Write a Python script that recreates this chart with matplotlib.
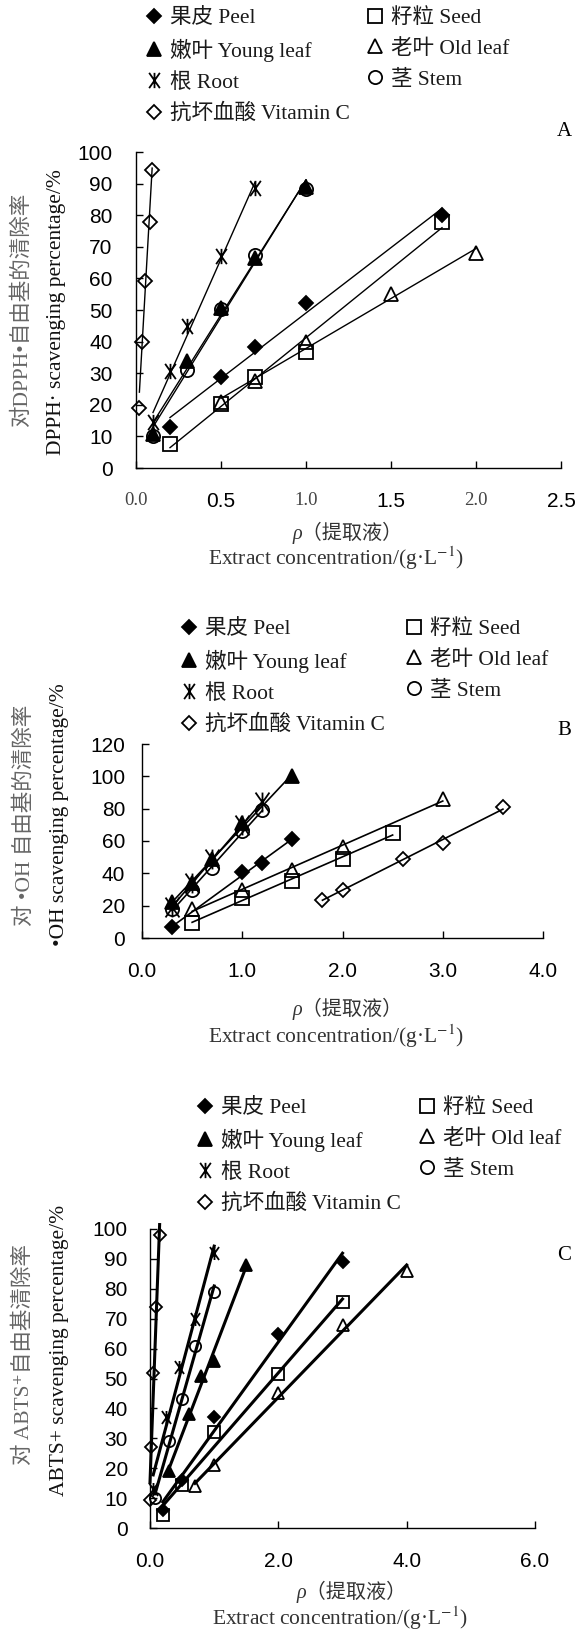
import numpy as np
import matplotlib
matplotlib.use('Agg')
import matplotlib.pyplot as plt
from matplotlib.lines import Line2D
from matplotlib.path import Path

plt.rcParams['mathtext.fontset'] = 'stix'

SERIF = ['Liberation Serif', 'Noto Sans CJK SC', 'DejaVu Sans']
SANS = ['Liberation Sans', 'Noto Sans CJK SC']

W, H = 585, 1630

# ---- data ----
names = ['果皮 Peel', '籽粒 Seed', '嫩叶 Young leaf', '老叶 Old leaf',
         '根 Root', '茎 Stem', '抗坏血酸 Vitamin C']

# A: DPPH
peel_a_x = [0.2, 0.5, 0.7, 1.0, 1.8]
peel_a_y = [13, 28.7, 38.3, 52.2, 80]
seed_a_x = [0.2, 0.5, 0.7, 1.0, 1.8]
seed_a_y = [7.6, 20.4, 28.8, 36.6, 78]
young_a_x = [0.1, 0.3, 0.5, 0.7, 1.0]
young_a_y = [10.9, 34, 50.6, 66.5, 89]
old_a_x = [0.5, 0.7, 1.0, 1.5, 2.0]
old_a_y = [21, 27.5, 39.8, 55, 68]
root_a_x = [0.1, 0.2, 0.3, 0.5, 0.7]
root_a_y = [14.5, 30.6, 44.8, 67.2, 88.6]
stem_a_x = [0.1, 0.3, 0.5, 0.7, 1.0]
stem_a_y = [10.2, 31.1, 50.3, 67.5, 88.3]
vc_a_x = [0.02, 0.035, 0.05, 0.08, 0.095]
vc_a_y = [19, 40, 59.3, 77.7, 94.2]

# B: .OH
peel_b_x = [0.3, 1.0, 1.2, 1.5]
peel_b_y = [6.5, 41, 46.5, 61]
seed_b_x = [0.5, 1.0, 1.5, 2.0, 2.5]
seed_b_y = [9.5, 25, 35, 49, 65]
young_b_x = [0.3, 0.5, 0.7, 1.0, 1.5]
young_b_y = [22, 34, 49, 71, 100]
old_b_x = [0.5, 1.0, 1.5, 2.0, 3.0]
old_b_y = [18, 30, 42, 56.5, 86]
root_b_x = [0.3, 0.5, 0.7, 1.0, 1.2]
root_b_y = [19, 34, 49, 70, 84]
stem_b_x = [0.3, 0.5, 0.7, 1.0, 1.2]
stem_b_y = [18, 30, 43, 66, 79]
vc_b_x = [1.8, 2.0, 2.6, 3.0, 3.6]
vc_b_y = [23.5, 30, 49, 58.5, 81]

# C: ABTS+
peel_c_x = [0.2, 0.5, 1.0, 2.0, 3.0]
peel_c_y = [6, 16, 37, 65, 89]
seed_c_x = [0.2, 0.5, 1.0, 2.0, 3.0]
seed_c_y = [4.5, 14.5, 32, 51.5, 75.5]
young_c_x = [0.3, 0.6, 0.8, 1.0, 1.5]
young_c_y = [19, 38, 51, 56, 88]
old_c_x = [0.7, 1.0, 2.0, 3.0, 4.0]
old_c_y = [14, 21, 45, 68, 86]
root_c_x = [0.05, 0.25, 0.45, 0.7, 1.0]
root_c_y = [13, 37, 54, 70, 92]
stem_c_x = [0.08, 0.3, 0.5, 0.7, 1.0]
stem_c_y = [10, 29, 43, 61, 79]
vc_c_x = [0.0, 0.02, 0.05, 0.1, 0.15]
vc_c_y = [9.5, 27, 52, 74, 98]

# Excel-like star: X with a vertical bar
star = Path([(-0.7, -1), (0.7, 1), (-0.7, 1), (0.7, -1), (0, -1), (0, 1)],
            [Path.MOVETO, Path.LINETO, Path.MOVETO, Path.LINETO, Path.MOVETO, Path.LINETO])

# marker styles, same order as names
styles = [
    dict(marker='D', mfc='black', ms=7.5),
    dict(marker='s', mfc='none', ms=9.5),
    dict(marker='^', mfc='black', ms=9.5),
    dict(marker='^', mfc='none', ms=9.5),
    dict(marker=star, mfc='none', ms=11),
    dict(marker='o', mfc='none', ms=9.5),
    dict(marker='D', mfc='none', ms=7.5),
]

fig = plt.figure(figsize=(W / 100, H / 100), dpi=100)


def px_axes(l, r, t, b):
    return fig.add_axes([l / W, 1 - b / H, (r - l) / W, (b - t) / H])


def draw_series(ax, xs, ys, lw, msscale=1.0, rootscale=1.0):
    for i, (x, y) in enumerate(zip(xs, ys)):
        st = dict(styles[i])
        st['ms'] = st['ms'] * msscale * (rootscale if i == 4 else 1.0)
        k, b = np.polyfit(x, y, 1)
        xx = np.array([min(x), max(x)])
        ax.plot(xx, k * xx + b, color='black', lw=lw, zorder=2, clip_on=False)
        ax.plot(x, y, ls='none', mec='black', mew=1.3, zorder=3,
                clip_on=False, **st)


def style_axes(ax, xpad, ypad):
    for s in ['top', 'right']:
        ax.spines[s].set_visible(False)
    for s in ['left', 'bottom']:
        ax.spines[s].set_linewidth(1.0)
    ax.tick_params(direction='in', length=5, width=1.0, labelsize=15)
    ax.tick_params(axis='x', pad=xpad)
    ax.tick_params(axis='y', pad=ypad)
    for lab in ax.get_xticklabels() + ax.get_yticklabels():
        lab.set_fontfamily(SANS)


def legends(mx1, mx2, top, fs=15.5):
    hs = []
    for st in styles:
        hs.append(Line2D([], [], ls='none', mec='black', mew=1.3, **st))
    kw = dict(frameon=False, handlelength=1.0, handletextpad=0.25,
              borderpad=0, borderaxespad=0, labelspacing=0.5, loc='upper left',
              prop={'family': SERIF, 'size': fs})
    hl = 0.5 * fs * 1.389
    l1 = fig.legend([hs[0], hs[2], hs[4], hs[6]], [names[0], names[2], names[4], names[6]],
                    bbox_to_anchor=((mx1 - hl) / W, 1 - top / H), **kw)
    l2 = fig.legend([hs[1], hs[3], hs[5]], [names[1], names[3], names[5]],
                    bbox_to_anchor=((mx2 - hl) / W, 1 - top / H), **kw)
    for lg in (l1, l2):
        for t in lg.get_texts():
            t.set_color('#1a1a1a')


def ftext(x, y, s, **kw):
    fig.text(x / W, 1 - y / H, s, ha='center', va='center', **kw)


# ---------------- Panel A ----------------
axA = px_axes(136, 561, 152, 468)
draw_series(axA, [peel_a_x, seed_a_x, young_a_x, old_a_x, root_a_x, stem_a_x, vc_a_x],
            [peel_a_y, seed_a_y, young_a_y, old_a_y, root_a_y, stem_a_y, vc_a_y], lw=1.0)
axA.set_xlim(0, 2.5)
axA.set_ylim(0, 100)
axA.set_xticks(np.arange(0, 2.51, 0.5))
axA.set_yticks(np.arange(0, 101, 10))
axA.set_xticklabels(['0.0', '0.5', '1.0', '1.5', '2.0', '2.5'])
style_axes(axA, 17, 17)
for i, lab in enumerate(axA.get_xticklabels()):
    if i % 2 == 0:
        lab.set_fontfamily(SERIF)
        lab.set_color('#444444')
        lab.set_fontsize(13.5)

legends(154, 375, 8)
ftext(564, 132, 'A', fontsize=15, family=SERIF)
ftext(22, 310, '对DPPH•自由基的清除率', rotation=90, fontsize=15.5, family=SERIF, color='#666666')
ftext(57, 312, 'DPPH· scavenging percentage/%', rotation=90, fontsize=15.5, family=SERIF, color='#111111')
ftext(348, 533, 'ρ（提取液）', fontsize=14.5, family=SERIF, style='italic', color='#333333')
ftext(336, 558, 'Extract concentration/(g·L$^{-1}$)', fontsize=15.5, family=SERIF, color='#333333')

# ---------------- Panel B ----------------
axB = px_axes(142, 543, 744, 938)
draw_series(axB, [peel_b_x, seed_b_x, young_b_x, old_b_x, root_b_x, stem_b_x, vc_b_x],
            [peel_b_y, seed_b_y, young_b_y, old_b_y, root_b_y, stem_b_y, vc_b_y], lw=1.2,
            rootscale=1.3)
axB.set_xlim(0, 4.0)
axB.set_ylim(0, 120)
axB.set_xticks(np.arange(0, 4.01, 1.0))
axB.set_yticks(np.arange(0, 121, 20))
axB.set_xticklabels(['0.0', '1.0', '2.0', '3.0', '4.0'])
style_axes(axB, 17, 12)

legends(189, 414, 619)
ftext(564, 730, 'B', fontsize=15, family=SERIF)
ftext(24, 815, '对 •OH 自由基的清除率', rotation=90, fontsize=15.5, family=SERIF, color='#666666')
ftext(60, 815, '•OH scavenging percentage/%', rotation=90, fontsize=15.5, family=SERIF, color='#111111')
ftext(348, 1009, 'ρ（提取液）', fontsize=14.5, family=SERIF, style='italic', color='#333333')
ftext(336, 1036, 'Extract concentration/(g·L$^{-1}$)', fontsize=15.5, family=SERIF, color='#333333')

# ---------------- Panel C ----------------
axC = px_axes(150, 535, 1229, 1528)
draw_series(axC, [peel_c_x, seed_c_x, young_c_x, old_c_x, root_c_x, stem_c_x, vc_c_x],
            [peel_c_y, seed_c_y, young_c_y, old_c_y, root_c_y, stem_c_y, vc_c_y], lw=2.2,
            msscale=0.85)
axC.set_xlim(0, 6.0)
axC.set_ylim(0, 100)
axC.set_xticks(np.arange(0, 6.01, 2.0))
axC.set_yticks(np.arange(0, 101, 10))
axC.set_xticklabels(['0.0', '2.0', '4.0', '6.0'])
style_axes(axC, 17, 16)

legends(205, 427, 1098)
ftext(564, 1255, 'C', fontsize=15, family=SERIF)
ftext(24, 1355, '对 ABTS⁺自由基清除率', rotation=90, fontsize=15.5, family=SERIF, color='#666666')
ftext(60, 1350, 'ABTS+ scavenging percentage/%', rotation=90, fontsize=15.5, family=SERIF, color='#111111')
ftext(352, 1592, 'ρ（提取液）', fontsize=14.5, family=SERIF, style='italic', color='#333333')
ftext(340, 1618, 'Extract concentration/(g·L$^{-1}$)', fontsize=15.5, family=SERIF, color='#333333')

fig.savefig('out.png', dpi=100)
